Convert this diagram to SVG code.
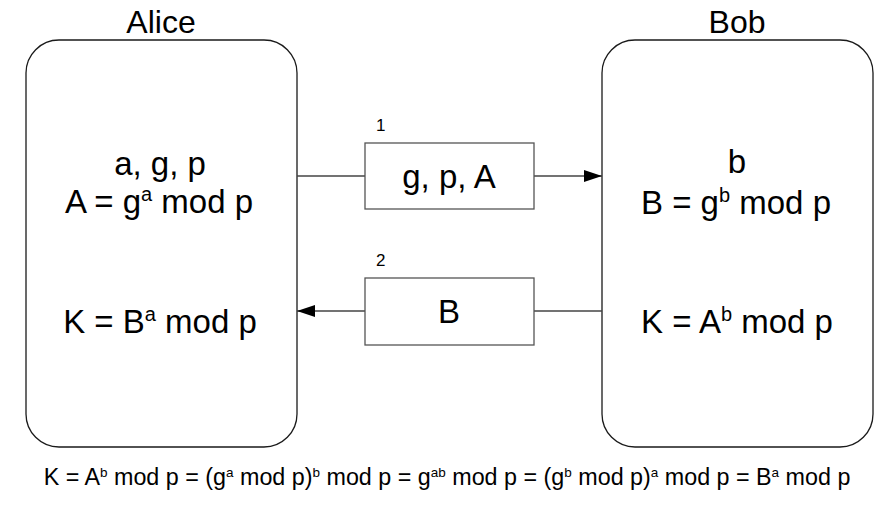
<svg xmlns="http://www.w3.org/2000/svg" width="889" height="506" viewBox="0 0 889 506">
  <style>
    .party { fill: #ffffff; stroke: #1a1a1a; stroke-width: 1.3; }
    .msg { fill: #ffffff; stroke: #555555; stroke-width: 1.3; }
    .conn { fill: none; stroke: #444444; stroke-width: 1.3; }
    .big { font-family: "Liberation Sans", Arial, sans-serif; font-size: 33px; fill: #000; text-anchor: middle; }
    .title { font-family: "Liberation Sans", Arial, sans-serif; font-size: 32px; fill: #000; text-anchor: middle; }
    .num { font-family: "Liberation Sans", Arial, sans-serif; font-size: 17px; fill: #000; }
    .foot { font-family: "Liberation Sans", Arial, sans-serif; font-size: 23.3px; fill: #000; text-anchor: middle; }
    .sup { font-size: 20px; }
    .fsup { font-size: 13.5px; }
  </style>
  <defs>
    <marker id="arrow" viewBox="0 0 18 12" refX="18" refY="6" markerWidth="18" markerHeight="12" markerUnits="userSpaceOnUse" orient="auto">
      <path d="M0,0 L18,6 L0,12 Z" fill="#000"/>
    </marker>
  </defs>

  <rect width="889" height="506" fill="#ffffff"/>

  <g id="alice">
    <rect class="party" x="26" y="40" width="271" height="407" rx="33" ry="33"/>
    <text class="title" x="161" y="33">Alice</text>
    <text class="big" x="160" y="175">a, g, p</text>
    <text class="big" x="159" y="213">A = g<tspan class="sup" dy="-12">a</tspan><tspan dy="12"> mod p</tspan></text>
    <text class="big" x="160" y="333">K = B<tspan class="sup" dy="-12">a</tspan><tspan dy="12"> mod p</tspan></text>
  </g>

  <g id="bob">
    <rect class="party" x="602" y="40" width="271" height="407" rx="33" ry="33"/>
    <text class="title" x="737" y="33">Bob</text>
    <text class="big" x="737" y="173">b</text>
    <text class="big" x="736" y="214">B = g<tspan class="sup" dy="-12">b</tspan><tspan dy="12"> mod p</tspan></text>
    <text class="big" x="737" y="333">K = A<tspan class="sup" dy="-12">b</tspan><tspan dy="12"> mod p</tspan></text>
  </g>

  <g id="connectors">
    <line class="conn" x1="297" y1="176" x2="365" y2="176"/>
    <line class="conn" x1="534" y1="176" x2="602" y2="176" marker-end="url(#arrow)"/>
    <line class="conn" x1="602" y1="311" x2="534" y2="311"/>
    <line class="conn" x1="365" y1="311" x2="297" y2="311" marker-end="url(#arrow)"/>
  </g>

  <g id="msg1">
    <rect class="msg" x="365" y="143" width="169" height="66"/>
    <text class="big" x="449" y="188">g, p, A</text>
    <text class="num" x="376" y="131">1</text>
  </g>

  <g id="msg2">
    <rect class="msg" x="365" y="278" width="169" height="67"/>
    <text class="big" x="449" y="323">B</text>
    <text class="num" x="376" y="266">2</text>
  </g>

  <g id="formula">
    <text class="foot" x="447" y="485">K = A<tspan class="fsup" dy="-8">b</tspan><tspan dy="8"> mod p = (g</tspan><tspan class="fsup" dy="-8">a</tspan><tspan dy="8"> mod p)</tspan><tspan class="fsup" dy="-8">b</tspan><tspan dy="8"> mod p = g</tspan><tspan class="fsup" dy="-8">ab</tspan><tspan dy="8"> mod p = (g</tspan><tspan class="fsup" dy="-8">b</tspan><tspan dy="8"> mod p)</tspan><tspan class="fsup" dy="-8">a</tspan><tspan dy="8"> mod p = B</tspan><tspan class="fsup" dy="-8">a</tspan><tspan dy="8"> mod p</tspan></text>
  </g>
</svg>
